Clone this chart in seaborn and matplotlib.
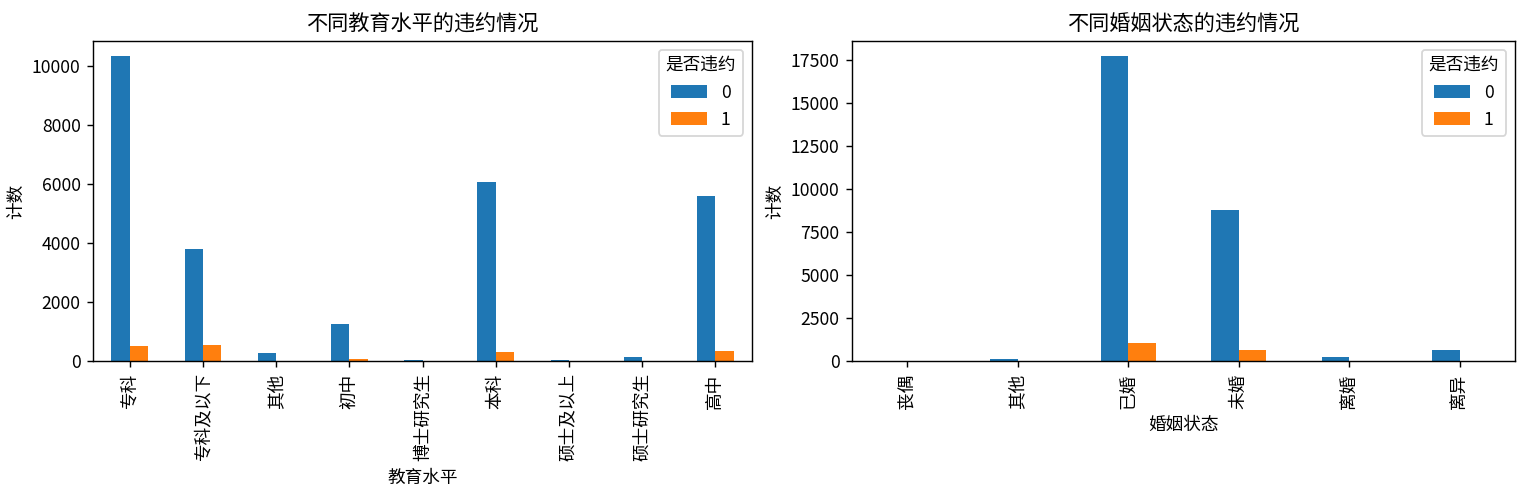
import pandas as pd
import matplotlib
matplotlib.use("Agg")
import matplotlib.pyplot as plt
import seaborn as sns

plt.rcParams['font.family'] = ['Noto Sans CJK SC', 'DejaVu Sans']
plt.rcParams['axes.unicode_minus'] = False

# 教育水平 vs 是否违约
edu_levels = ['专科', '专科及以下', '其他', '初中', '博士研究生', '本科', '硕士及以上', '硕士研究生', '高中']
edu_0 = [10340, 3800, 260, 1250, 30, 6070, 30, 125, 5600]
edu_1 = [500, 530, 0, 60, 0, 300, 0, 0, 330]

# 婚姻状态 vs 是否违约
mar_levels = ['丧偶', '其他', '已婚', '未婚', '离婚', '离异']
mar_0 = [10, 100, 17730, 8780, 215, 620]
mar_1 = [0, 0, 1060, 640, 0, 0]

default_flags = ['0', '1']
colors = ['#1f77b4', '#ff7f0e']


def to_long(levels, v0, v1, col):
    rows = []
    for lv, a, b in zip(levels, v0, v1):
        rows.append({col: lv, '是否违约': '0', '计数': a})
        rows.append({col: lv, '是否违约': '1', '计数': b})
    return pd.DataFrame(rows)


edu_df = to_long(edu_levels, edu_0, edu_1, '教育水平')
mar_df = to_long(mar_levels, mar_0, mar_1, '婚姻状态')

dpi = 127
fig, (ax1, ax2) = plt.subplots(1, 2, figsize=(1523 / dpi, 499 / dpi), dpi=dpi)

for ax, df, col, order, title in [
    (ax1, edu_df, '教育水平', edu_levels, '不同教育水平的违约情况'),
    (ax2, mar_df, '婚姻状态', mar_levels, '不同婚姻状态的违约情况'),
]:
    sns.barplot(data=df, x=col, y='计数', hue='是否违约', order=order,
                hue_order=default_flags, palette=colors, saturation=1,
                errorbar=None, width=0.5, ax=ax)
    ax.set_title(title, fontsize=12)
    ax.set_xlabel(col)
    ax.set_ylabel('计数')
    ax.tick_params(axis='x', rotation=90)
    ax.set_xlim(-0.5, len(order) - 0.5)
    ax.legend(title='是否违约', loc='upper right')

# panel positions matched to the reference
ax1.set_position([93 / 1523, 1 - 361 / 499, (752 - 93) / 1523, 320 / 499])
ax2.set_position([852 / 1523, 1 - 361 / 499, (1515 - 852) / 1523, 320 / 499])

plt.savefig('out.png', dpi=dpi)
